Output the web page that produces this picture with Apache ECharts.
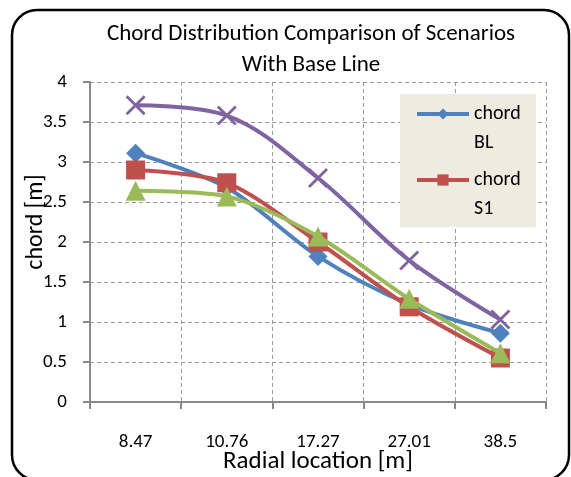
<!DOCTYPE html>
<html>
<head>
<meta charset="utf-8">
<script src="https://cdn.jsdelivr.net/npm/echarts@6/dist/echarts.min.js"></script>
<style>
html,body{margin:0;padding:0;background:#fff;}
#c{width:571px;height:477px;}
</style>
</head>
<body>
<div id="c"></div>
<script>
var categories = ['8.47', '10.76', '17.27', '27.01', '38.5'];
var chordBL = [3.11, 2.68, 1.82, 1.22, 0.86];
var chordS1 = [2.9, 2.74, 2.0, 1.19, 0.55];
var chordS2 = [2.64, 2.57, 2.07, 1.29, 0.61];
var chordS3 = [3.71, 3.58, 2.8, 1.77, 1.03];
var yTicks = [0, 0.5, 1, 1.5, 2, 2.5, 3, 3.5, 4];

var FONT = 'Carlito, Lato, sans-serif';
var crossPath = 'path://M0,1L1,0L10,9L9,10Z M9,0L10,1L1,10L0,9Z';

var chart = echarts.init(document.getElementById('c'), null, {renderer: 'canvas'});
chart.setOption({
  animation: false,
  backgroundColor: '#ffffff',
  title: {
    text: 'Chord Distribution Comparison of Scenarios\nWith Base Line',
    left: 306, top: 14, textAlign: 'center',
    textStyle: {fontFamily: FONT, fontSize: 23, fontWeight: 'normal', color: '#000', lineHeight: 31}
  },
  grid: {left: 90, right: 25, top: 82, bottom: 75, containLabel: false, outerBoundsMode: 'none'},
  legend: {
    data: ['chord BL', 'chord S1'],
    orient: 'vertical',
    left: 415, top: 70.5,
    padding: 0,
    itemGap: -21,
    itemWidth: 52, itemHeight: 14,
    lineStyle: {width: 4},
    formatter: function (n) { return ' \n' + n.replace(' ', '\n'); },
    textStyle: {fontFamily: FONT, fontSize: 20, lineHeight: 29, color: '#000'},
    z: 10
  },
  graphic: [
    {type: 'rect', z: 5, shape: {x: 400, y: 94, width: 136, height: 133}, style: {fill: '#EEECE1'}},
    {type: 'rect', z: 20, shape: {x: 12, y: 10, width: 557, height: 470, r: 25}, style: {fill: 'none', stroke: '#000', lineWidth: 2.5}}
  ],
  xAxis: {
    type: 'category',
    data: categories,
    boundaryGap: true,
    name: 'Radial location [m]',
    nameLocation: 'middle',
    nameGap: 47,
    nameMoveOverlap: false,
    nameTextStyle: {fontFamily: FONT, fontSize: 25, color: '#000'},
    axisLine: {lineStyle: {color: '#888', width: 2}},
    axisTick: {show: true, interval: 0, length: 7, lineStyle: {color: '#888', width: 2}},
    axisLabel: {interval: 0, margin: 31, fontFamily: FONT, fontSize: 19, color: '#000'},
    splitLine: {show: true, interval: 0, lineStyle: {color: '#999', type: [4, 3], width: 1}}
  },
  yAxis: {
    type: 'value',
    min: 0, max: 4, interval: 0.5,
    name: 'chord [m]',
    nameLocation: 'middle',
    nameGap: 42,
    nameMoveOverlap: false,
    nameRotate: 90,
    nameTextStyle: {fontFamily: FONT, fontSize: 24, color: '#000', padding: [0, 0, 0, 40]},
    axisLine: {show: true, lineStyle: {color: '#888', width: 2}},
    axisTick: {show: true, length: 7, lineStyle: {color: '#888', width: 2}},
    axisLabel: {margin: 23, fontFamily: FONT, fontSize: 19, color: '#000',
      formatter: function (v) { return yTicks.indexOf(v) >= 0 ? String(v) : ''; }},
    splitLine: {show: true, lineStyle: {color: '#999', type: [4, 3], width: 1}}
  },
  series: [
    {name: 'chord BL', type: 'line', data: chordBL, smooth: 0.3, symbol: 'diamond', symbolSize: 19,
      lineStyle: {color: '#4F81BD', width: 4}, itemStyle: {color: '#4F81BD'}, z: 2},
    {name: 'chord S1', type: 'line', data: chordS1, smooth: 0.3, symbol: 'rect', symbolSize: 19,
      lineStyle: {color: '#C0504D', width: 4}, itemStyle: {color: '#C0504D'}, z: 3},
    {name: 'chord S2', type: 'line', data: chordS2, smooth: 0.3, symbol: 'triangle', symbolSize: 20,
      lineStyle: {color: '#9BBB59', width: 4}, itemStyle: {color: '#9BBB59'}, z: 4},
    {name: 'chord S3', type: 'line', data: chordS3, smooth: 0.35, symbol: crossPath, symbolSize: 20,
      lineStyle: {color: '#8064A2', width: 4}, itemStyle: {color: '#8064A2'}, z: 4}
  ]
});
</script>
</body>
</html>
